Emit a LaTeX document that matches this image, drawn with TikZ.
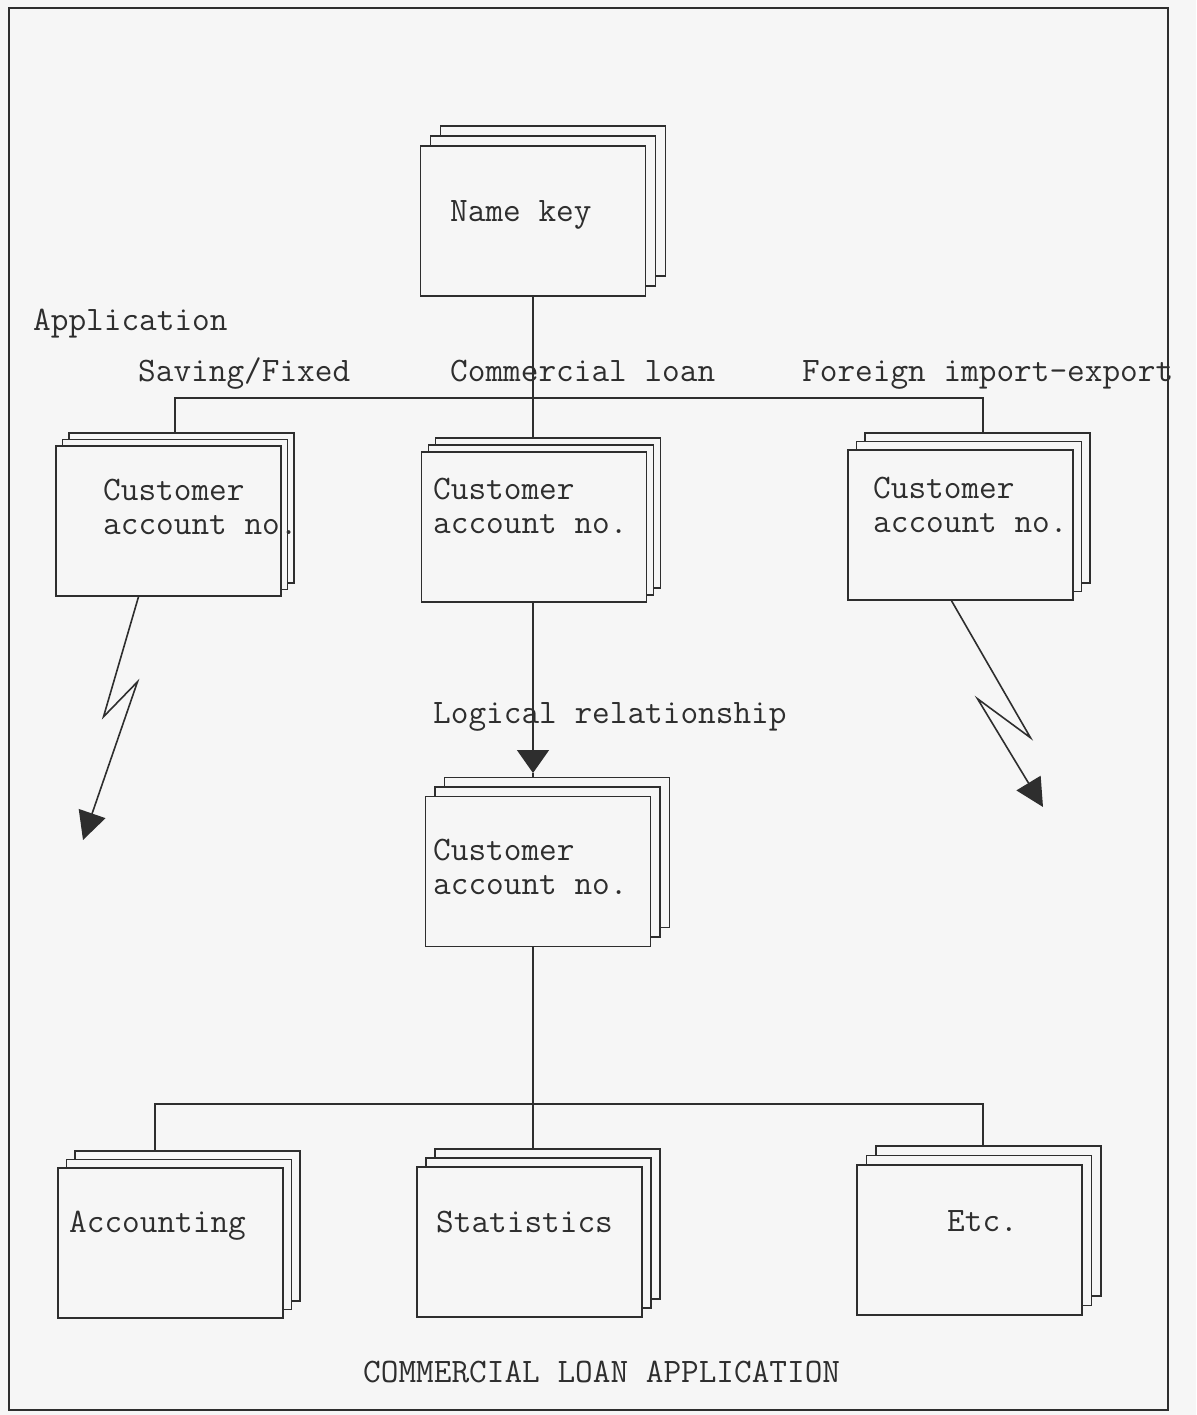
\documentclass[tikz,border=0pt]{standalone}
\usepackage{fontspec}
\usepackage{tikz}
\usetikzlibrary{arrows.meta,shadows,backgrounds}
\definecolor{ink}{gray}{0.18}
\definecolor{paper}{gray}{0.965}
\tikzset{
  sheets/.style={rectangle, draw=ink, line width=1.5pt, fill=paper,
    minimum width=225pt, minimum height=150pt,
    copy shadow={draw=ink, fill=paper, line width=1.5pt, shadow xshift=2*#1, shadow yshift=2*#1},
    copy shadow={draw=ink, fill=paper, line width=1.5pt, shadow xshift=#1, shadow yshift=#1}},
  sheets/.default=9pt,
  typed/.style={font=\ttfamily\fontsize{34.3}{34}\selectfont, text=ink,
    inner sep=0pt, anchor=base west, align=left},
  wire/.style={draw=ink, line width=1.6pt},
  bolt/.style={wire, -{Triangle[length=28pt,width=28pt]}}
}

\begin{document}
\begin{tikzpicture}[x=1pt, y=-1pt]
            \useasboundingbox (0,0) rectangle (1196,1415);

            \node[sheets=10pt] (nk) at (533,221) {};
            \node[sheets=6.5pt] (sv) at (168.5,521) {};
            \node[sheets=7pt] (cm) at (534,527) {};
            \node[sheets=8.5pt] (fx) at (960.5,525) {};
            \node[sheets=9.5pt] (cl) at (538,871.5) {};
            \node[sheets=8.5pt] (ac) at (170.5,1243) {};
            \node[sheets=9pt] (st) at (529.5,1242) {};
            \node[sheets=9.5pt] (et) at (969.5,1240) {};

            \begin{scope}[every node/.style={typed}]
                \node (nk-t) at (450,222) {Name key};
                \node (app) at (33,330) {Application};
                \node (sv-l) at (138,381) {Saving/Fixed};
                \node (cm-l) at (450,381) {Commercial loan};
                \node (fx-l) at (802,381) {Foreign import-export};
                \node (sv-t) at (103,534) {Customer\\account no.};
                \node (cm-t) at (433,533) {Customer\\account no.};
                \node (fx-t) at (873,532) {Customer\\account no.};
                \node (lr-l) at (433,723) {Logical relationship};
                \node (cl-t) at (433,894) {Customer\\account no.};
                \node (ac-t) at (69,1232) {Accounting};
                \node (st-t) at (436,1232) {Statistics};
                \node (et-t) at (947,1231) {Etc.};
                \node (title) at (363,1382) {COMMERCIAL LOAN APPLICATION};
            \end{scope}

            \coordinate (top-bus) at (533,398);
            \coordinate (lr-tip) at (533,773);
            \coordinate (low-bus) at (533,1104);
            \coordinate (sv-end) at (83,840);
            \coordinate (fx-end) at (1043,807);

            \begin{scope}[on background layer]
                \fill[paper] (0,0) rectangle (1196,1415);
                \draw[ink, line width=1.5pt] (9,8) rectangle (1168,1410);
                \draw[wire] (top-bus |- nk) -- (top-bus |- cm);
                \draw[wire] ([xshift=6.5pt]sv.center) |- (top-bus) -| ([xshift=22.5pt]fx.center);
                \draw[wire, -{Triangle[length=23pt,width=32pt]}] (lr-tip |- cm) -- (lr-tip);
                \draw[wire] (lr-tip) -- (lr-tip |- cl);
                \draw[wire] (low-bus |- cl) -- (low-bus |- st);
                \draw[wire] ([xshift=-15.5pt]ac.center) |- (low-bus) -| ([xshift=13.5pt]et.center);
                \draw[bolt] ([xshift=-30pt]sv.south) -- ++(-35,120) -- ++(34,-35) -- (sv-end);
                \draw[bolt] ([xshift=-9pt]fx.south) -- ++(79,137) -- ++(-53,-39) -- (fx-end);
            \end{scope}
            \end{tikzpicture}
\end{document}
